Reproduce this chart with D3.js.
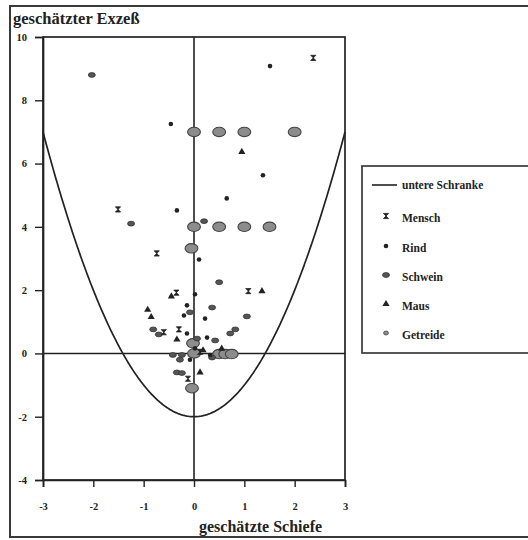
<!DOCTYPE html>
<html>
<head>
<meta charset="utf-8">
<script src="https://cdn.jsdelivr.net/npm/d3@7"></script>
<style>
  html, body { margin: 0; padding: 0; background: #fff; }
  svg { display: block; }
  text { font-family: "Liberation Serif", "DejaVu Serif", serif; fill: #222; }
</style>
</head>
<body>
<script>
// Schiefe (skewness) and Exzeß (excess kurtosis) estimates per data set
const mensch = [[2.37, 9.34], [-1.51, 4.55], [-0.74, 3.16], [-0.35, 1.92], [1.08, 1.97],
                [-0.3, 0.76], [-0.6, 0.67], [0.12, 0.05], [-0.12, -0.8]];
const rind = [[1.51, 9.08], [-0.46, 7.25], [1.37, 5.63], [0.65, 4.9], [-0.34, 4.52],
              [0.1, 2.97], [0.02, 1.87], [-0.14, 1.52], [-0.2, 1.2], [0.22, 1.1],
              [-0.14, 0.63], [0.26, 0.5], [0.02, 0.16], [0.32, -0.05], [-0.08, -0.2]];
const schwein = [[-2.03, 8.8], [-1.25, 4.1], [0.2, 4.18], [0.5, 2.25], [0.36, 1.45],
                 [-0.08, 1.3], [1.05, 1.17], [-0.81, 0.76], [-0.7, 0.6], [0.42, 0.41],
                 [0.72, 0.63], [0.82, 0.76], [0.06, 0.47], [-0.42, -0.05], [-0.24, -0.05],
                 [-0.28, -0.2], [0.36, -0.13], [-0.34, -0.6], [-0.24, -0.62]];
const maus = [[0.95, 6.37], [-0.45, 1.8], [1.35, 1.97], [-0.92, 1.38], [-0.85, 1.15],
              [-0.34, 0.44], [0.55, 0.15], [0.12, -0.6], [0.18, 0.1]];
const getreide = [[0, 7], [0.5, 7], [1, 7], [2, 7], [0, 4], [0.5, 4], [1, 4], [1.5, 4],
                  [-0.05, 3.32], [-0.02, 0.32], [0, 0], [0.5, -0.02],
                  [0.62, -0.02], [0.75, -0.02], [-0.04, -1.1]];

const xTicks = [-3, -2, -1, 0, 1, 2, 3];
const yTicks = [-4, -2, 0, 2, 4, 6, 8, 10];
const legendLabels = ["untere Schranke", "Mensch", "Rind", "Schwein", "Maus", "Getreide"];

const W = 528, H = 540;
const frame = { left: 43, top: 37, right: 345, bottom: 480 };
const ink = "#222";

const svg = d3.select("body").append("svg").attr("width", W).attr("height", H);

// outer frame of the figure
svg.append("rect").attr("x", 10).attr("y", 6).attr("width", 530).attr("height", 531)
  .attr("fill", "none").attr("stroke", "#3a3a3a").attr("stroke-width", 2);

const x = d3.scaleLinear().domain([-3, 3]).range([frame.left, frame.right]);
const y = d3.scaleLinear().domain([-4, 10]).range([frame.bottom, frame.top]);

// plot box
svg.append("rect").attr("x", frame.left).attr("y", frame.top)
  .attr("width", frame.right - frame.left).attr("height", frame.bottom - frame.top)
  .attr("fill", "none").attr("stroke", ink).attr("stroke-width", 1.7);

// axes
const fmt = d => String(d);
const yAxis = svg.append("g").attr("transform", `translate(${frame.left},0)`)
  .call(d3.axisLeft(y).tickValues(yTicks).tickFormat(fmt).tickSize(8).tickPadding(8));
const xAxis = svg.append("g").attr("transform", `translate(0,${frame.bottom})`)
  .call(d3.axisBottom(x).tickValues(xTicks).tickFormat(fmt).tickSize(7).tickPadding(16));
[yAxis, xAxis].forEach(g => {
  g.select(".domain").attr("stroke", ink).attr("stroke-width", 1.7);
  g.selectAll(".tick line").attr("stroke", ink).attr("stroke-width", 1.4);
  g.selectAll(".tick text").attr("font-family", "Liberation Serif, serif")
    .attr("font-size", 10.5).attr("font-weight", "bold").attr("fill", ink);
});

// zero lines
svg.append("line").attr("x1", x(0)).attr("x2", x(0)).attr("y1", y(10)).attr("y2", y(-4))
  .attr("stroke", ink).attr("stroke-width", 1.6);
svg.append("line").attr("x1", x(-3)).attr("x2", x(3)).attr("y1", y(0)).attr("y2", y(0))
  .attr("stroke", ink).attr("stroke-width", 1.6);

// lower bound: Exzeß >= Schiefe^2 - 2
const boundX = d3.range(-3, 3.0001, 0.02);
svg.append("path")
  .datum(boundX.map(s => [s, s * s - 2]))
  .attr("d", d3.line().x(d => x(d[0])).y(d => y(d[1])))
  .attr("fill", "none").attr("stroke", ink).attr("stroke-width", 1.7);

// marker drawers
const markers = {
  Mensch: (g) => g.append("path").attr("d", "M-2.6,-2.6L2.6,-2.6L-2.6,2.6L2.6,2.6Z")
    .attr("fill", ink).attr("stroke", ink).attr("stroke-width", 0.8),
  Rind: (g) => g.append("circle").attr("r", 2.3).attr("fill", ink),
  Schwein: (g) => g.append("ellipse").attr("rx", 3.5).attr("ry", 2.4)
    .attr("fill", "#555").attr("stroke", "#333").attr("stroke-width", 0.8),
  Maus: (g) => g.append("path").attr("d", d3.symbol(d3.symbolTriangle, 22)())
    .attr("fill", ink),
  Getreide: (g, big) => g.append("ellipse").attr("rx", big ? 6.4 : 2.4).attr("ry", big ? 4.7 : 2)
    .attr("fill", "#8c8c8c").attr("stroke", "#444").attr("stroke-width", big ? 1.1 : 0.8)
};

const series = [
  ["Getreide", getreide], ["Schwein", schwein], ["Rind", rind],
  ["Maus", maus], ["Mensch", mensch]
];
series.forEach(([name, pts]) => {
  const g = svg.append("g").attr("class", "series-" + name);
  pts.forEach(p => {
    const m = g.append("g").attr("transform", `translate(${x(p[0])},${y(p[1])})`);
    markers[name](m, true);
  });
});

// titles
svg.append("text").attr("x", 13).attr("y", 24).attr("font-size", 16.5).attr("font-weight", "bold")
  .attr("fill", ink).text("geschätzter Exzeß");
svg.append("text").attr("x", 199).attr("y", 532).attr("font-size", 16).attr("font-weight", "bold")
  .attr("fill", ink).text("geschätzte Schiefe");

// legend
const leg = svg.append("g");
leg.append("rect").attr("x", 362).attr("y", 166).attr("width", 180).attr("height", 187)
  .attr("fill", "#fff").attr("stroke", "#3a3a3a").attr("stroke-width", 1.7);
const rowY = [185, 218, 248, 277, 306, 335];
legendLabels.forEach((lab, i) => {
  const yy = rowY[i];
  if (i === 0) {
    leg.append("line").attr("x1", 372).attr("x2", 397).attr("y1", yy).attr("y2", yy)
      .attr("stroke", ink).attr("stroke-width", 1.6);
  } else {
    const m = leg.append("g").attr("transform", `translate(386,${yy - 2})`);
    markers[lab](m, false);
  }
  leg.append("text").attr("x", 402).attr("y", yy + 4).attr("font-size", 11.5)
    .attr("font-weight", "bold").attr("fill", ink).text(lab);
});
</script>
</body>
</html>
